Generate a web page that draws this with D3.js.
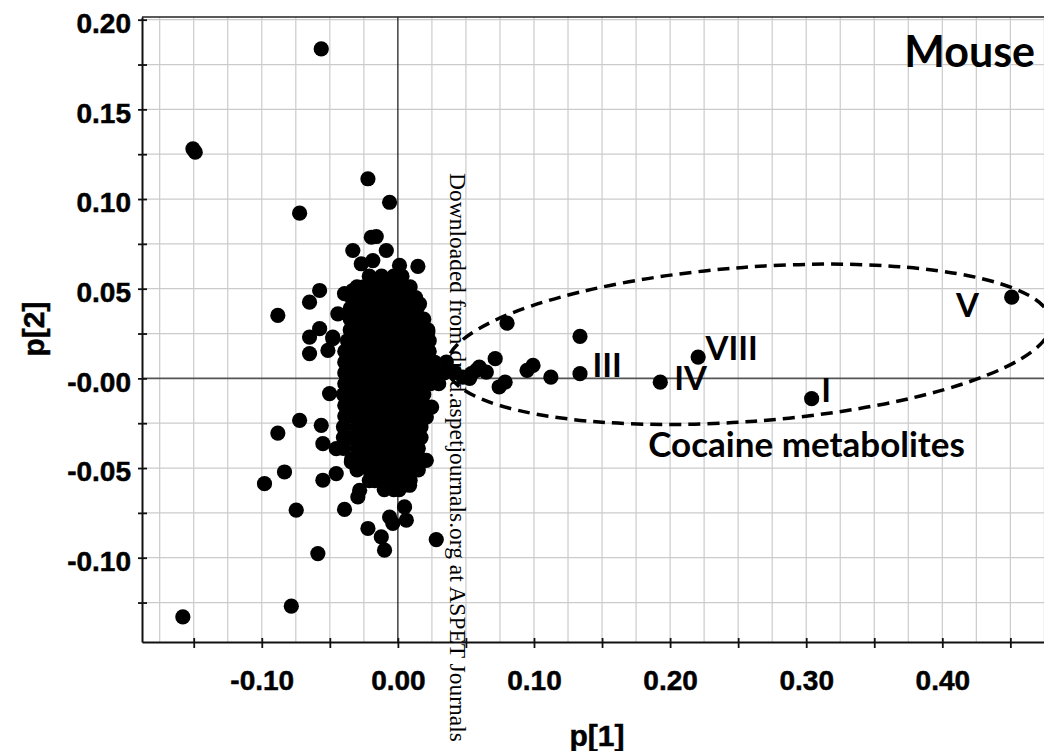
<!DOCTYPE html>
<html>
<head>
<meta charset="utf-8">
<script src="https://cdn.jsdelivr.net/npm/d3@7"></script>
<style>
  body { margin: 0; background: #fff; }
  svg { display: block; }
</style>
</head>
<body>
<svg id="chart" width="1044" height="751"></svg>
<script>
// axis ticks and labels
var xTickValues = [-0.15, -0.10, -0.05, 0.00, 0.05, 0.10, 0.15, 0.20, 0.25, 0.30, 0.35, 0.40, 0.45];
var xLabelValues = [-0.10, 0.00, 0.10, 0.20, 0.30, 0.40];
var xLabelTexts = ["-0.10", "0.00", "0.10", "0.20", "0.30", "0.40"];
var yTickValues = [0.200, 0.175, 0.150, 0.125, 0.100, 0.075, 0.050, 0.025, 0.000, -0.025, -0.050, -0.075, -0.100, -0.125];
var yLabelValues = [0.20, 0.15, 0.10, 0.05, 0.00, -0.05, -0.10];
var yLabelTexts = ["0.20", "0.15", "0.10", "0.05", "-0.00", "-0.05", "-0.10"];
var gridX = [-0.175, -0.15, -0.125, -0.10, -0.075, -0.05, -0.025, 0.025, 0.05, 0.075, 0.10, 0.125, 0.15,
             0.175, 0.20, 0.225, 0.25, 0.275, 0.30, 0.325, 0.35, 0.375, 0.40, 0.425, 0.45, 0.475];
var gridY = [0.200, 0.175, 0.150, 0.125, 0.100, 0.075, 0.050, 0.025, -0.025, -0.050, -0.075, -0.100, -0.125];

// loadings p[1], p[2] : scattered variables
var outerLoadings = [
  [-0.0563, 0.1837], [-0.1506, 0.1280], [-0.1489, 0.1261], [-0.0220, 0.1113], [-0.0061, 0.0982],
  [-0.0722, 0.0921], [-0.0195, 0.0787], [-0.0159, 0.0791], [-0.0331, 0.0713], [-0.0085, 0.0713],
  [-0.0269, 0.0639], [-0.0184, 0.0657], [0.0012, 0.0630], [0.0147, 0.0624], [-0.0575, 0.0490],
  [-0.0649, 0.0425], [-0.0392, 0.0472], [-0.0318, 0.0475], [-0.0331, 0.0490], [-0.0882, 0.0351],
  [-0.0441, 0.0360], [-0.0649, 0.0230], [-0.0575, 0.0277], [-0.0649, 0.0138], [-0.0478, 0.0221],
  [-0.0514, 0.0156], [-0.0478, 0.0230], [0.0159, 0.0416], [0.0220, 0.0258], [-0.0502, -0.0085],
  [-0.0722, -0.0234], [-0.0882, -0.0305], [-0.0563, -0.0262], [-0.0551, -0.0364], [-0.0453, -0.0392],
  [0.0209, -0.0457], [0.0220, -0.0160], [0.0209, -0.0216], [0.0248, -0.0160], [-0.0833, -0.0522],
  [-0.0980, -0.0587], [-0.0551, -0.0568], [-0.0453, -0.0531], [-0.0342, -0.0466], [-0.0281, -0.0624],
  [-0.0294, -0.0661], [-0.0747, -0.0735], [-0.0392, -0.0731], [-0.0220, -0.0837], [-0.0122, -0.0884],
  [-0.0098, -0.0958], [-0.0061, -0.0773], [-0.0037, -0.0809], [0.0049, -0.0717], [0.0062, -0.0791],
  [0.0282, -0.0899], [-0.0588, -0.0977], [-0.0783, -0.1270], [-0.1580, -0.1330], [-0.0012, -0.0587],
  [0.0086, -0.0596], [-0.0085, -0.0568],
  // tail towards the metabolites
  [0.0356, 0.0091], [0.0417, 0.0033], [0.0478, 0.0007], [0.0527, 0.0000], [0.0540, 0.0026],
  [0.0576, 0.0045], [0.0598, 0.0063], [0.0650, 0.0035], [0.0715, 0.0110], [0.0744, -0.0048],
  [0.0788, -0.0021], [0.0802, 0.0308], [0.0949, 0.0045], [0.0993, 0.0072], [0.1124, 0.0007],
  [0.1338, 0.0026], [0.1338, 0.0234], [0.1928, -0.0021], [0.2206, 0.0119], [0.3040, -0.0113],
  [0.4510, 0.0453]
];

// dense core: each row is [p2, list of p1]
var coreRows = [
  [0.057, [-0.021, -0.012, -0.003, 0.003]],
  [0.051, [-0.030, -0.025, -0.016, -0.007, 0.002, 0.009]],
  [0.045, [-0.034, -0.030, -0.021, -0.012, -0.003, 0.006, 0.013]],
  [0.039, [-0.035, -0.026, -0.017, -0.008, 0.001, 0.010, 0.014]],
  [0.033, [-0.035, -0.030, -0.021, -0.012, -0.003, 0.006, 0.015, 0.019]],
  [0.027, [-0.035, -0.026, -0.017, -0.008, 0.001, 0.010, 0.019, 0.022]],
  [0.021, [-0.037, -0.030, -0.021, -0.012, -0.003, 0.006, 0.015, 0.023]],
  [0.015, [-0.039, -0.034, -0.026, -0.017, -0.008, 0.001, 0.010, 0.019, 0.023]],
  [0.009, [-0.039, -0.030, -0.021, -0.012, -0.003, 0.006, 0.015, 0.024, 0.027]],
  [0.003, [-0.039, -0.034, -0.026, -0.017, -0.008, 0.001, 0.010, 0.019, 0.028, 0.034]],
  [-0.003, [-0.039, -0.030, -0.021, -0.012, -0.003, 0.006, 0.015, 0.024, 0.030]],
  [-0.009, [-0.040, -0.034, -0.026, -0.017, -0.008, 0.001, 0.010, 0.019]],
  [-0.015, [-0.039, -0.030, -0.021, -0.012, -0.003, 0.006, 0.015, 0.019]],
  [-0.021, [-0.039, -0.034, -0.026, -0.017, -0.008, 0.001, 0.010, 0.019]],
  [-0.027, [-0.040, -0.030, -0.021, -0.012, -0.003, 0.006, 0.015, 0.017]],
  [-0.033, [-0.040, -0.034, -0.026, -0.017, -0.008, 0.001, 0.010, 0.017]],
  [-0.039, [-0.040, -0.030, -0.021, -0.012, -0.003, 0.006, 0.015]],
  [-0.045, [-0.034, -0.026, -0.017, -0.008, 0.001, 0.010, 0.017]],
  [-0.051, [-0.030, -0.021, -0.012, -0.003, 0.006, 0.015]],
  [-0.057, [-0.021, -0.017, -0.008, 0.001, 0.009]],
  [-0.062, [-0.010, -0.003, 0.001]]
];

// annotation labels, anchored at [p1, p2] of their baseline start
var metaboliteNames = ["III", "IV", "VIII", "I", "V"];
var metaboliteLabelPos = [[0.143, 0.0006], [0.203, -0.0067], [0.226, 0.010], [0.311, -0.0132], [0.410, 0.034]];
var groupLabel = "Cocaine metabolites";
var groupLabelPos = [0.184, -0.044];
var titleLabel = "Mouse";
var titleLabelPos = [0.372, 0.1735];
var ellipseCenter = [0.258, 0.019];
var ellipseRadii = [0.2226, 0.043];
var ellipseAngle = -4.3;

var svg = d3.select("#chart");

var x = d3.scaleLinear().domain([-0.188, 0.48]).range([142, 1051.2]);
var y = d3.scaleLinear().domain([-0.147, 0.2015]).range([642, 17]);

var numFont = "'Liberation Sans', Arial, sans-serif";
var noteFont = "Lato, 'Open Sans', sans-serif";

// grid
svg.append("g").selectAll("line").data(gridX).enter().append("line")
    .attr("x1", d => x(d)).attr("x2", d => x(d))
    .attr("y1", y.range()[1]).attr("y2", y.range()[0])
    .attr("stroke", "#cbcbcb").attr("stroke-width", 1.2);
svg.append("g").selectAll("line").data(gridY).enter().append("line")
    .attr("x1", x.range()[0]).attr("x2", x.range()[1])
    .attr("y1", d => y(d)).attr("y2", d => y(d))
    .attr("stroke", "#cbcbcb").attr("stroke-width", 1.2);

// zero lines
svg.append("line")
    .attr("x1", x(0)).attr("x2", x(0))
    .attr("y1", y.range()[1]).attr("y2", y.range()[0])
    .attr("stroke", "#111").attr("stroke-width", 1.2);
svg.append("line")
    .attr("x1", x.range()[0]).attr("x2", x.range()[1])
    .attr("y1", y(0)).attr("y2", y(0))
    .attr("stroke", "#555").attr("stroke-width", 1.8);

// top border
svg.append("line")
    .attr("x1", x.range()[0]).attr("x2", x.range()[1])
    .attr("y1", y.range()[1]).attr("y2", y.range()[1])
    .attr("stroke", "#222").attr("stroke-width", 1.5);

function labelFrom(values, texts) {
    return function(d) {
        for (var i = 0; i < values.length; i++) {
            if (Math.abs(values[i] - d) < 1e-9) return texts[i];
        }
        return "";
    };
}

var yAxis = svg.append("g")
    .attr("transform", "translate(" + x.range()[0] + ",0)")
    .call(d3.axisLeft(y).tickValues(yTickValues).tickSize(4).tickSizeOuter(0).tickPadding(7)
        .tickFormat(labelFrom(yLabelValues, yLabelTexts)));
yAxis.select(".domain").attr("stroke", "#111").attr("stroke-width", 2);
yAxis.selectAll(".tick line").attr("x1", 5).attr("stroke", "#111").attr("stroke-width", 1.8);
yAxis.selectAll(".tick text")
    .attr("dy", "0.46em")
    .attr("stroke", "#000").attr("stroke-width", 0.5)
    .style("font-family", numFont).style("font-weight", "bold").style("font-size", "28px").attr("fill", "#000");

var xAxis = svg.append("g")
    .attr("transform", "translate(0," + y.range()[0] + ")")
    .call(d3.axisBottom(x).tickValues(xTickValues).tickSize(6).tickSizeOuter(0).tickPadding(22)
        .tickFormat(labelFrom(xLabelValues, xLabelTexts)));
xAxis.select(".domain").attr("stroke", "#111").attr("stroke-width", 2);
xAxis.selectAll(".tick line").attr("y1", -4).attr("stroke", "#111").attr("stroke-width", 1.8);
xAxis.selectAll(".tick text")
    .attr("stroke", "#000").attr("stroke-width", 0.5)
    .style("font-family", numFont).style("font-weight", "bold").style("font-size", "28px").attr("fill", "#000");

// axis titles
svg.append("text")
    .attr("transform", "translate(44,329) rotate(-90)")
    .attr("text-anchor", "middle")
    .attr("stroke", "#000").attr("stroke-width", 0.5)
    .style("font-family", numFont).style("font-weight", "bold").style("font-size", "30px")
    .text("p[2]");
svg.append("text")
    .attr("x", 597).attr("y", 746)
    .attr("text-anchor", "middle")
    .attr("stroke", "#000").attr("stroke-width", 0.5)
    .style("font-family", numFont).style("font-weight", "bold").style("font-size", "30px")
    .text("p[1]");

// journal watermark
svg.append("text")
    .attr("transform", "translate(450,173) rotate(90)")
    .style("font-family", "'Liberation Serif', 'Times New Roman', serif").style("font-size", "23.5px")
    .text("Downloaded from dmd.aspetjournals.org at ASPET Journals");

// dashed ellipse around the metabolites
var ecx = x(ellipseCenter[0]), ecy = y(ellipseCenter[1]);
svg.append("ellipse")
    .attr("cx", ecx).attr("cy", ecy)
    .attr("rx", x(ellipseCenter[0] + ellipseRadii[0]) - ecx)
    .attr("ry", y(ellipseCenter[1] - ellipseRadii[1]) - ecy)
    .attr("transform", "rotate(" + ellipseAngle + "," + ecx + "," + ecy + ")")
    .attr("fill", "none").attr("stroke", "#000").attr("stroke-width", 3.5)
    .attr("stroke-dasharray", "12,7");

// points
var corePoints = [];
coreRows.forEach(function(row) {
    row[1].forEach(function(p1) { corePoints.push([p1, row[0]]); });
});
var allPoints = corePoints.concat(outerLoadings);

svg.append("g").selectAll("circle").data(allPoints).enter().append("circle")
    .attr("cx", d => x(d[0]))
    .attr("cy", d => y(d[1]))
    .attr("r", 7.6)
    .attr("fill", "#000");

// labels
svg.append("g").selectAll("text").data(metaboliteNames).enter().append("text")
    .attr("x", (d, i) => x(metaboliteLabelPos[i][0]))
    .attr("y", (d, i) => y(metaboliteLabelPos[i][1]))
    .style("font-family", noteFont).style("font-weight", "bold").style("font-size", "33px")
    .text(d => d);
svg.append("text")
    .attr("x", x(groupLabelPos[0])).attr("y", y(groupLabelPos[1]))
    .style("font-family", noteFont).style("font-weight", "bold").style("font-size", "35px")
    .text(groupLabel);
svg.append("text")
    .attr("x", x(titleLabelPos[0])).attr("y", y(titleLabelPos[1]))
    .style("font-family", noteFont).style("font-weight", "bold").style("font-size", "43px")
    .text(titleLabel);
</script>
</body>
</html>
